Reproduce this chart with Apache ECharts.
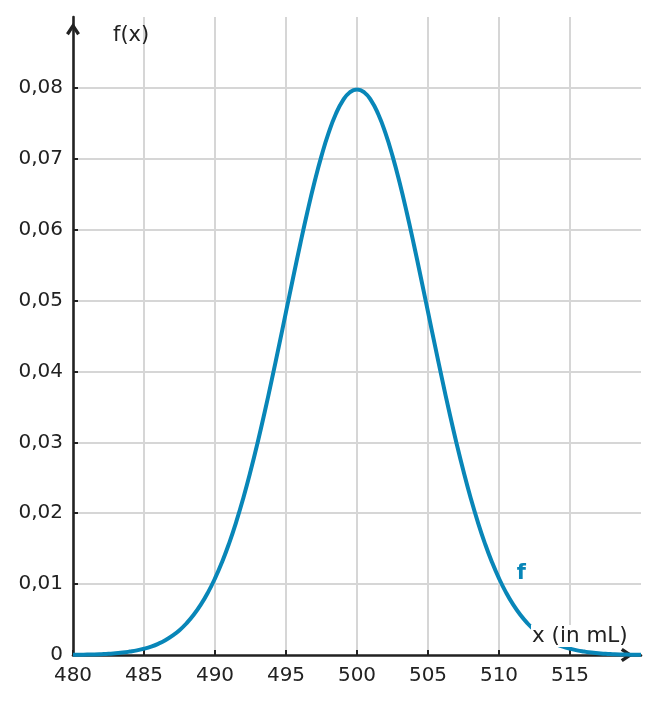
<!DOCTYPE html>
<html>
<head>
<meta charset="utf-8">
<script src="https://cdn.jsdelivr.net/npm/echarts@6/dist/echarts.min.js"></script>
<style>
html,body{margin:0;padding:0;background:#fff;}
#chart{width:658px;height:704px;}
</style>
</head>
<body>
<div id="chart"></div>
<script>
// x values (mL) and read-off density values f(x)
const xValues = [480,480.5,481,481.5,482,482.5,483,483.5,484,484.5,485,485.5,486,486.5,487,487.5,488,488.5,489,489.5,490,490.5,491,491.5,492,492.5,493,493.5,494,494.5,495,495.5,496,496.5,497,497.5,498,498.5,499,499.5,500,500.5,501,501.5,502,502.5,503,503.5,504,504.5,505,505.5,506,506.5,507,507.5,508,508.5,509,509.5,510,510.5,511,511.5,512,512.5,513,513.5,514,514.5,515,515.5,516,516.5,517,517.5,518,518.5,519,519.5,520];
const fValues = [0.00003,0.00004,0.00006,0.00008,0.00012,0.00017,0.00025,0.00034,0.00048,0.00065,0.00089,0.00119,0.00158,0.00208,0.00272,0.0035,0.00448,0.00567,0.0071,0.0088,0.0108,0.01312,0.01579,0.01881,0.02219,0.02591,0.02995,0.03428,0.03884,0.04357,0.04839,0.05322,0.05794,0.06245,0.06664,0.07041,0.07365,0.07628,0.07821,0.07939,0.07979,0.07939,0.07821,0.07628,0.07365,0.07041,0.06664,0.06245,0.05794,0.05322,0.04839,0.04357,0.03884,0.03428,0.02995,0.02591,0.02219,0.01881,0.01579,0.01312,0.0108,0.0088,0.0071,0.00567,0.00448,0.0035,0.00272,0.00208,0.00158,0.00119,0.00089,0.00065,0.00048,0.00034,0.00025,0.00017,0.00012,0.00008,0.00006,0.00004,0.00003];
const xTicks = {min:480, max:520, interval:5};
const yTicks = {min:0, max:0.09, interval:0.01};
const curveLabel = {x:511, y:0.0071, text:'f'};
const xTitle = 'x (in mL)';
const yTitle = 'f(x)';

const blue = '#0886b8';
const axisColor = '#222';
const font = 'DejaVu Sans';
const arrowPath = 'path://M7,0 L14,10.6 L11.2,12.6 L7,6 L2.8,12.6 L0,10.6 Z';

const seriesData = xValues.map((x,i)=>[x,fValues[i]]);

const chart = echarts.init(document.getElementById('chart'), null, {renderer:'canvas'});
chart.setOption({
  animation:false,
  backgroundColor:'#fff',
  grid:{left:73, right:17, top:17, bottom:49, containLabel:false},
  xAxis:{
    type:'value', min:xTicks.min, max:xTicks.max, interval:xTicks.interval,
    axisLine:{show:true, onZero:false, lineStyle:{color:axisColor, width:2.6},
      symbol:['none', arrowPath], symbolSize:[14,12.5], symbolOffset:[0,-14]},
    axisTick:{show:true, inside:true, length:5, lineStyle:{color:axisColor, width:2}},
    axisLabel:{color:axisColor, fontSize:20, fontFamily:font, margin:11, showMaxLabel:false, showMinLabel:true},
    splitLine:{show:true, showMinLine:false, showMaxLine:false, lineStyle:{color:'#d6d6d6', width:2}}
  },
  yAxis:{
    type:'value', min:yTicks.min, max:yTicks.max, interval:yTicks.interval,
    axisLine:{show:true, onZero:false, lineStyle:{color:axisColor, width:2.6},
      symbol:['none', arrowPath], symbolSize:[14,12.5], symbolOffset:[0,-12]},
    axisTick:{show:true, inside:true, length:5, lineStyle:{color:axisColor, width:2}},
    axisLabel:{color:axisColor, fontSize:20, fontFamily:font, margin:10, showMaxLabel:false,
      formatter:v=> v===0 ? '0' : v.toFixed(2).replace('.',',')},
    splitLine:{show:true, showMinLine:false, showMaxLine:false, lineStyle:{color:'#d6d6d6', width:2}}
  },
  graphic:[
    {type:'text', left:113, top:25, z:100, style:{text:yTitle, fill:axisColor, font:'21px "DejaVu Sans"'}},
    {type:'text', left:531, top:625, z:100, style:{text:xTitle, fill:axisColor, font:'21.5px "DejaVu Sans"', backgroundColor:'#fff', padding:[0,1,0,1]}}
  ],
  series:[{
    type:'line', data:seriesData, smooth:true, showSymbol:false, symbol:'none',
    lineStyle:{color:blue, width:4}, z:3, clip:false,
    markPoint:{
      symbol:'circle', symbolSize:1, itemStyle:{color:'rgba(0,0,0,0)'},
      label:{show:true, position:'inside', offset:[8,-31], formatter:curveLabel.text,
        color:blue, fontWeight:'bold', fontSize:21, fontFamily:font},
      data:[{coord:[curveLabel.x, curveLabel.y]}]
    }
  }]
});
</script>
</body>
</html>
